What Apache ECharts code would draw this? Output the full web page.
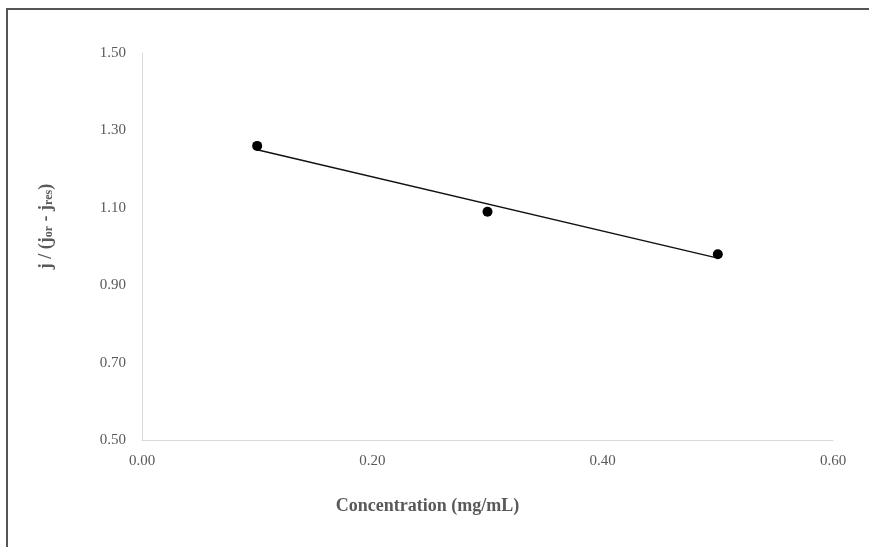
<!DOCTYPE html>
<html>
<head>
<meta charset="utf-8">
<script src="https://cdn.jsdelivr.net/npm/echarts@6/dist/echarts.min.js"></script>
<style>
  html, body { margin: 0; padding: 0; background: #fff; }
  #main { width: 869px; height: 547px; }
</style>
</head>
<body>
<div id="main"></div>
<script>
// measured points
const concentration = [0.1, 0.3, 0.5];
const ratio = [1.26, 1.09, 0.98];
// linear trendline ends
const trendX = [0.1, 0.5];
const trendY = [1.25, 0.97];

const serif = '"Liberation Serif", "Times New Roman", serif';
const grey = '#595959';

var chart = echarts.init(document.getElementById('main'));

chart.setOption({
    animation: false,
    backgroundColor: '#fff',
    graphic: [{
        type: 'rect',
        shape: { x: 7, y: 9, width: 900, height: 600 },
        style: { fill: 'none', stroke: '#555', lineWidth: 2 },
        silent: true
    }],
    grid: { left: 142, right: 36, top: 53, bottom: 107 },
    xAxis: {
        type: 'value',
        min: 0, max: 0.6, interval: 0.2,
        name: 'Concentration (mg/mL)',
        nameLocation: 'middle',
        nameGap: 57,
        nameTextStyle: {
            fontFamily: serif, fontSize: 18, fontWeight: 'bold', color: grey,
            padding: [0, 120, 0, 0]
        },
        axisLine: { lineStyle: { color: '#d9d9d9', width: 1 } },
        axisTick: { show: false },
        splitLine: { show: false },
        axisLabel: {
            fontFamily: serif, fontSize: 15, color: grey, margin: 14,
            formatter: v => v.toFixed(2)
        }
    },
    yAxis: {
        type: 'value',
        min: 0.5, max: 1.5, interval: 0.2,
        name: 'j / (j{s|or} - j{s|res})',
        nameLocation: 'middle',
        nameGap: 87,
        nameTextStyle: {
            fontFamily: serif, fontSize: 18, fontWeight: 'bold', color: grey,
            padding: [0, 0, 0, 40],
            rich: {
                s: { fontFamily: serif, fontSize: 12, fontWeight: 'bold', color: grey, verticalAlign: 'bottom', padding: [6, 0, 0, 0] }
            }
        },
        axisLine: { show: true, lineStyle: { color: '#d9d9d9', width: 1 } },
        axisTick: { show: false },
        splitLine: { show: false },
        axisLabel: {
            fontFamily: serif, fontSize: 15, color: grey, margin: 16,
            formatter: v => v.toFixed(2)
        }
    },
    series: [{
        type: 'line',
        data: trendX.map((x, i) => [x, trendY[i]]),
        symbol: 'none',
        lineStyle: { color: '#111', width: 1.5 },
        silent: true,
        z: 1
    }, {
        type: 'scatter',
        data: concentration.map((x, i) => [x, ratio[i]]),
        symbol: 'circle',
        symbolSize: 10,
        itemStyle: { color: '#000', opacity: 1 },
        z: 2
    }]
});
</script>
</body>
</html>
